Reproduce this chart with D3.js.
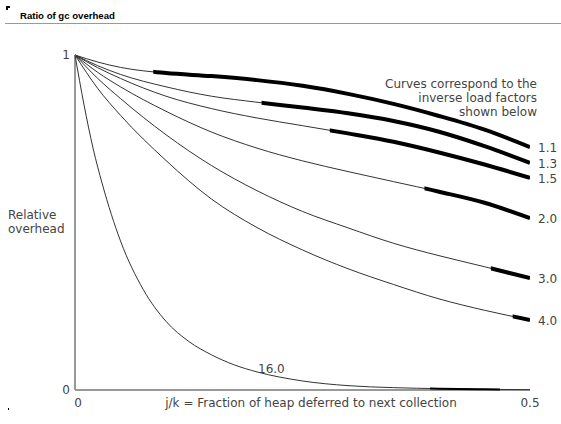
<!DOCTYPE html>
<html><head><meta charset="utf-8">
<script src="https://cdn.jsdelivr.net/npm/d3@7"></script>
<style>
body{margin:0;background:#fff;}
svg{display:block;}
text{font-family:"DejaVu Sans",sans-serif;fill:#444;}
</style></head>
<body>
<svg id="c" width="561" height="424"></svg>
<script>
// ---- data ----
const xs = [0, 0.025, 0.05, 0.1, 0.15, 0.2, 0.25, 0.3, 0.35, 0.4, 0.45, 0.5];
const loadFactors = ["1.1", "1.3", "1.5", "2.0", "3.0", "4.0"];
const curve11 = [1, 0.979, 0.963, 0.946, 0.937, 0.925, 0.908, 0.884, 0.854, 0.818, 0.777, 0.725];
const curve13 = [1, 0.968, 0.942, 0.905, 0.877, 0.859, 0.843, 0.826, 0.803, 0.771, 0.728, 0.678];
const curve15 = [1, 0.962, 0.93, 0.877, 0.84, 0.812, 0.789, 0.766, 0.741, 0.709, 0.673, 0.633];
const curve20 = [1, 0.948, 0.905, 0.832, 0.77, 0.722, 0.684, 0.652, 0.622, 0.592, 0.559, 0.513];
const curve30 = [1, 0.93, 0.87, 0.762, 0.67, 0.595, 0.533, 0.484, 0.438, 0.401, 0.368, 0.334];
const curve40 = [1, 0.9, 0.82, 0.685, 0.57, 0.485, 0.418, 0.362, 0.315, 0.272, 0.238, 0.209];
const xs16 = [0, 0.01, 0.02, 0.03, 0.05, 0.075, 0.1, 0.125, 0.15, 0.175, 0.2, 0.25, 0.3, 0.35, 0.4, 0.45, 0.5];
const curve160 = [1, 0.85, 0.72, 0.615, 0.445, 0.30, 0.205, 0.145, 0.105, 0.075, 0.054, 0.027, 0.013, 0.007, 0.004, 0.002, 0.001];
const thickFrom = [0.086, 0.205, 0.28, 0.384, 0.457, 0.481];
const thick16 = [0.39, 0.467];
const xTicks = [0, 0.5];
const yTicks = [0, 1];
const title = "Ratio of gc overhead";
const xLabel = "j/k = Fraction of heap deferred to next collection";
const yLabel = ["Relative", "overhead"];
const note = ["Curves correspond to the", "inverse load factors", "shown below"];

// ---- drawing ----
const svg = d3.select("#c");
const x = d3.scaleLinear().domain([0, 0.5]).range([75, 530]);
const y = d3.scaleLinear().domain([0, 1]).range([390, 55]);

// header
svg.append("path").attr("d", "M7,10V7H10").attr("stroke", "#000").attr("stroke-width", 2).attr("fill", "none");
svg.append("text").attr("x", 20).attr("y", 19).text(title)
  .style("font-family", "'Liberation Sans',Arial,sans-serif")
  .style("font-size", "9.6px").style("font-weight", "bold").style("fill", "#000");
svg.append("line").attr("x1", 5).attr("x2", 561).attr("y1", 23.5).attr("y2", 23.5)
  .attr("stroke", "#999").attr("stroke-width", 1);
svg.append("rect").attr("x", 8).attr("y", 408).attr("width", 1).attr("height", 2).attr("fill", "#000");

const allCurves = [curve11, curve13, curve15, curve20, curve30, curve40];
const line = d3.line().x(d => x(d[0])).y(d => y(d[1])).curve(d3.curveMonotoneX);

const defs = svg.append("defs");
function drawCurve(xv, yv, from, to, i, thickW) {
  const pts = xv.map((v, k) => [v, yv[k]]);
  svg.append("path").attr("d", line(pts)).attr("fill", "none")
    .attr("stroke", "#333").attr("stroke-width", 1);
  defs.append("clipPath").attr("id", "cp" + i).append("rect")
    .attr("x", x(from)).attr("y", 0).attr("width", x(to) - x(from)).attr("height", 424);
  svg.append("path").attr("d", line(pts)).attr("fill", "none")
    .attr("stroke", "#000").attr("stroke-width", thickW).attr("clip-path", "url(#cp" + i + ")");
}
allCurves.forEach((c, i) => drawCurve(xs, c, thickFrom[i], 0.5, i, 4));

// axes
const axisG = svg.append("g");
axisG.append("line").attr("x1", x(0)).attr("x2", x(0)).attr("y1", y(1)).attr("y2", y(0))
  .attr("stroke", "#999").attr("stroke-width", 2);
axisG.append("line").attr("x1", x(0)).attr("x2", x(0.5)).attr("y1", y(0)).attr("y2", y(0))
  .attr("stroke", "#999").attr("stroke-width", 2);

drawCurve(xs16, curve160, thick16[0], thick16[1], 6, 2);

// tick labels
yTicks.forEach(t => svg.append("text").attr("x", x(0) - 5).attr("y", y(t) + 4)
  .attr("text-anchor", "end").text(String(t)).style("font-size", "12px"));
xTicks.forEach(t => svg.append("text").attr("x", x(t) + (t === 0 ? 3 : 0)).attr("y", y(0) + 17)
  .attr("text-anchor", "middle").text(String(t)).style("font-size", "12px"));

svg.append("text").attr("x", 311).attr("y", y(0) + 17).attr("text-anchor", "middle")
  .text(xLabel).style("font-size", "12px");
yLabel.forEach((s, i) => svg.append("text").attr("x", 8).attr("y", 219 + i * 14).text(s).style("font-size", "12px"));
note.forEach((s, i) => svg.append("text").attr("x", 537).attr("y", 88 + i * 14)
  .attr("text-anchor", "end").text(s).style("font-size", "12px"));

// curve labels
allCurves.forEach((c, i) => svg.append("text").attr("x", 538).attr("y", y(c[c.length - 1]) + 5)
  .text(loadFactors[i]).style("font-size", "12px"));
svg.append("text").attr("x", 258).attr("y", 373).text("16.0").style("font-size", "12px");
</script>
</body></html>
